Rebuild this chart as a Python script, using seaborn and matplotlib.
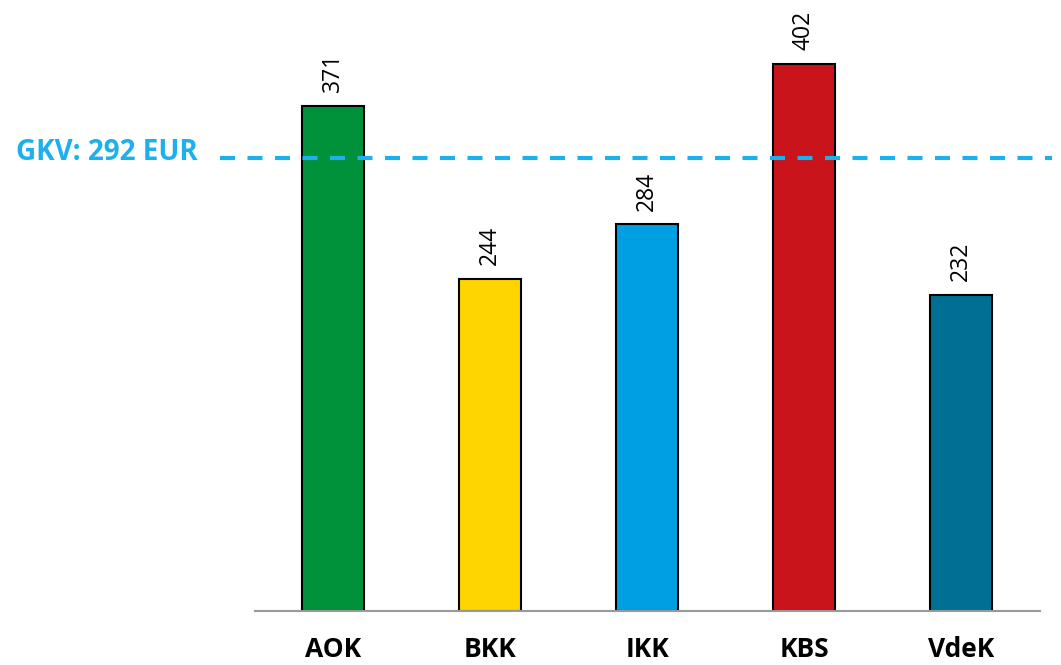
import matplotlib
matplotlib.use("Agg")
import matplotlib.pyplot as plt
import seaborn as sns
import pandas as pd

categories = ["AOK", "BKK", "IKK", "KBS", "VdeK"]
values = [371, 244, 284, 402, 232]
colors = ["#00923A", "#FFD500", "#009FE3", "#C8141A", "#006F94"]
gkv_label = "GKV: 292 EUR"
gkv_line_level = 333  # visual position of the dashed reference line

sns.set_theme(style="white")
plt.rcParams["font.family"] = ["Open Sans", "DejaVu Sans"]

df = pd.DataFrame({"Kasse": categories, "Wert": values})

W, H = 1061, 665
fig = plt.figure(figsize=(W / 100, H / 100), dpi=100)
ax = fig.add_axes([254.5 / W, (H - 611) / H, 785 / W, (611 - 20) / H])

sns.barplot(data=df, x="Kasse", y="Wert", hue="Kasse", palette=colors,
            dodge=False, legend=False, width=0.4, edgecolor="black",
            linewidth=1.5, saturation=1, ax=ax)

ax.set_xlim(-0.5, 4.5)
ax.set_ylim(0, (611 - 20) / 1.361)

for i, v in enumerate(values):
    ax.annotate(str(v), xy=(i, v), xytext=(0, 10), textcoords="offset points",
                rotation=90, ha="center", va="bottom", fontsize=16.5,
                color="black", clip_on=False)

ax.axhline(gkv_line_level, xmin=-0.044, xmax=1.016, color="#1CB0EC",
           lw=3, dashes=(3.6, 3), clip_on=False, zorder=5)
fig.text(198 / W, 1 - 152 / H, gkv_label, ha="right", va="center",
         fontsize=20, fontweight="bold", color="#1CB0EC")

for s in ["top", "right", "left"]:
    ax.spines[s].set_visible(False)
ax.spines["bottom"].set_color("#999999")
ax.spines["bottom"].set_linewidth(1.5)
ax.set_yticks([])
ax.set_xlabel("")
ax.set_ylabel("")
ax.tick_params(axis="x", length=0, pad=18)
for lbl in ax.get_xticklabels():
    lbl.set_fontsize(19)
    lbl.set_fontweight("bold")
    lbl.set_color("black")

fig.savefig("out.png", dpi=100)
